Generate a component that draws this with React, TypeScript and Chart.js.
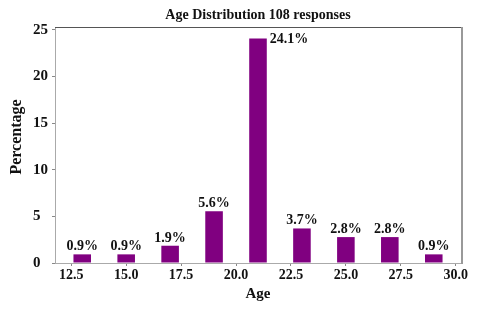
import React, { useEffect, useRef } from 'react';
import { Chart, registerables } from 'chart.js';

Chart.register(...registerables);

// ---- data ----
const totalResponses = 108;
const ages = [13, 15, 17, 19, 21, 23, 25, 27, 29];
const counts = [1, 1, 2, 6, 26, 4, 3, 3, 1];
const xTicks = [12.5, 15, 17.5, 20, 22.5, 25, 27.5, 30];
const yTicks = [0, 5, 10, 15, 20, 25];
const titleText = 'Age Distribution 108 responses';
const xTitle = 'Age';
const yTitle = 'Percentage';

const FONT = "'Liberation Serif', 'Times New Roman', Times, serif";
const INK = '#111111';
const BAR = '#800080';

const framePlugin = {
  id: 'frame',
  afterDraw(chart: any) {
    const { ctx, chartArea: a } = chart;
    ctx.save();
    ctx.strokeStyle = '#555555';
    ctx.lineWidth = 1;
    ctx.beginPath();
    ctx.moveTo(a.left, a.top + 0.5);
    ctx.lineTo(a.right, a.top + 0.5);
    ctx.stroke();
    ctx.strokeStyle = '#999999';
    ctx.lineWidth = 2;
    ctx.beginPath();
    ctx.moveTo(a.right + 1, a.top);
    ctx.lineTo(a.right + 1, a.bottom + 1);
    ctx.stroke();
    // y axis title
    ctx.fillStyle = INK;
    ctx.font = `bold 16px ${FONT}`;
    ctx.textAlign = 'center';
    ctx.textBaseline = 'middle';
    ctx.translate(17, (a.top + a.bottom) / 2 - 8);
    ctx.rotate(-Math.PI / 2);
    ctx.fillText(yTitle, 0, 0);
    ctx.restore();
  },
};

const labelPlugin = {
  id: 'barLabels',
  afterDatasetsDraw(chart: any) {
    const { ctx, chartArea } = chart;
    const meta = chart.getDatasetMeta(0);
    const ds = chart.data.datasets[0].data as any[];
    ctx.save();
    ctx.font = `bold 14px ${FONT}`;
    ctx.fillStyle = INK;
    meta.data.forEach((bar: any, i: number) => {
      const v = ds[i].y as number;
      const text = v.toFixed(1) + '%';
      const top = bar.y;
      if (top - 5 - 14 < chartArea.top) {
        ctx.textAlign = 'left';
        ctx.textBaseline = 'middle';
        ctx.fillText(text, bar.x + bar.width / 2 + 3, top + 1);
      } else {
        ctx.textAlign = 'center';
        ctx.textBaseline = 'alphabetic';
        ctx.fillText(text, bar.x, top - 4);
      }
    });
    ctx.restore();
  },
};

export default function App() {
  const ref = useRef<HTMLCanvasElement | null>(null);

  useEffect(() => {
    document.body.style.margin = '0';
    const canvas = ref.current;
    if (!canvas) return;
    const points = ages.map((a, i) => ({ x: a, y: (counts[i] / totalResponses) * 100 }));
    const chart = new Chart(canvas, {
      type: 'bar',
      data: {
        datasets: [
          {
            data: points as any,
            backgroundColor: BAR,
            borderWidth: 0,
            barPercentage: 0.4,
            categoryPercentage: 1.0,
          },
        ],
      },
      options: {
        animation: false,
        responsive: false,
        devicePixelRatio: 1,
        layout: { padding: { left: 33, right: 19, top: 0, bottom: 0 } },
        plugins: {
          legend: { display: false },
          tooltip: { enabled: false },
          title: {
            display: true,
            text: titleText,
            fullSize: false,
            color: INK,
            font: { family: FONT, size: 14, weight: 'bold', lineHeight: 1.2 },
            padding: { top: 7, bottom: 3.2 },
          },
        },
        scales: {
          x: {
            type: 'linear',
            min: 11.76,
            max: 30.24,
            offset: false,
            afterBuildTicks: (s: any) => {
              s.ticks = xTicks.map((v) => ({ value: v }));
            },
            afterFit: (s: any) => {
              s.height = 47;
            },
            grid: {
              offset: false,
              drawOnChartArea: false,
              drawTicks: true,
              tickLength: 3,
              color: '#888888',
            },
            border: { display: true, color: '#aaaaaa' },
            ticks: {
              autoSkip: false,
              maxRotation: 0,
              padding: 1,
              color: INK,
              font: { family: FONT, size: 14, weight: 'bold' },
              callback: (v: any) => Number(v).toFixed(1),
            },
            title: {
              display: true,
              text: xTitle,
              color: INK,
              font: { family: FONT, size: 15, weight: 'bold', lineHeight: 1.2 },
              padding: { top: 0, bottom: 7 },
            },
          },
          y: {
            type: 'linear',
            min: 0,
            max: 25.3,
            afterBuildTicks: (s: any) => {
              s.ticks = yTicks.map((v) => ({ value: v }));
            },
            afterFit: (s: any) => {
              s.width = 22;
            },
            grid: {
              drawOnChartArea: false,
              drawTicks: true,
              tickLength: 3,
              color: '#888888',
            },
            border: { display: true, color: '#aaaaaa' },
            ticks: {
              crossAlign: 'far',
              padding: 2,
              color: INK,
              font: { family: FONT, size: 15, weight: 'bold' },
              callback: (v: any) => String(v),
            },
          },
        },
      } as any,
      plugins: [framePlugin, labelPlugin],
    });
    return () => chart.destroy();
  }, []);

  return (
    <div style={{ width: 480, height: 310 }}>
      <canvas ref={ref} width={480} height={310} />
    </div>
  );
}
